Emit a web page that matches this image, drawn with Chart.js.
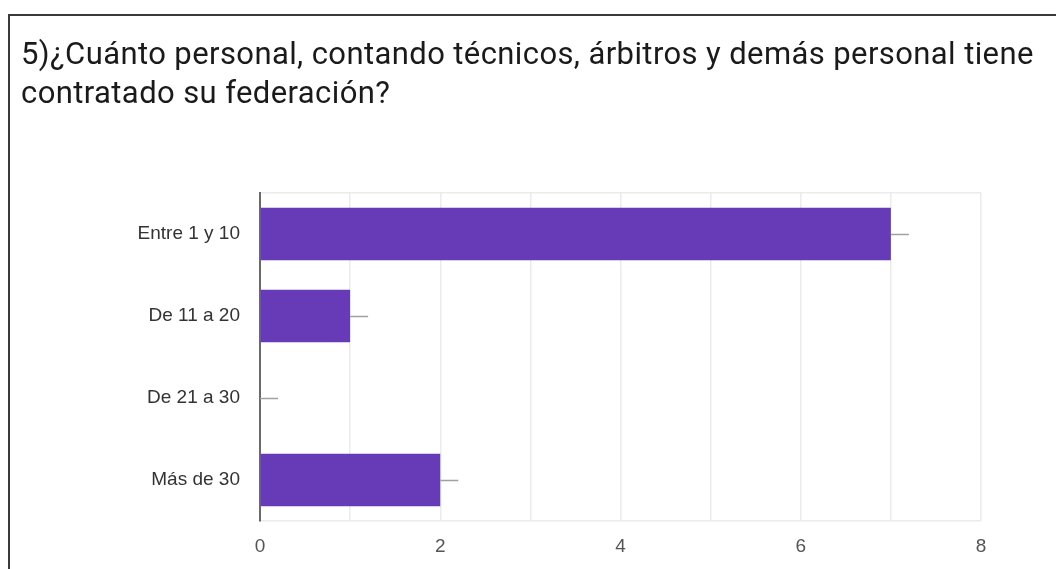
<!DOCTYPE html>
<html>
<head>
<meta charset="utf-8">
<script src="https://cdn.jsdelivr.net/npm/chart.js@4"></script>
<style>
  html, body { margin: 0; padding: 0; background: #fff; }
  #wrap { position: relative; width: 1056px; height: 569px; overflow: hidden; background: #fff; }
  #frame { position: absolute; left: 8px; top: 14px; width: 1100px; height: 600px;
           border-left: 2px solid #3a3a3a; border-top: 2px solid #3a3a3a; pointer-events: none; }
  #title { position: absolute; left: 21px; top: 34px; width: 1040px;
           font-family: Roboto, sans-serif; font-size: 31px; line-height: 39px;
           letter-spacing: 0.4px; color: #1a1a1a; white-space: nowrap; }
  canvas { position: absolute; left: 0; top: 0; }
</style>
</head>
<body>
<div id="wrap">
  <canvas id="c" width="1056" height="569"></canvas>
  <div id="title"></div>
  <div id="frame"></div>
</div>
<script>
const titleLines = ["5)¿Cuánto personal, contando técnicos, árbitros y demás personal tiene", "contratado su federación?"];
const categories = ["Entre 1 y 10", "De 11 a 20", "De 21 a 30", "Más de 30"];
const counts = [7, 1, 0, 2];
const xTickLabels = [0, 2, 4, 6, 8];

const titleEl = document.getElementById('title');
titleLines.forEach(line => {
  const d = document.createElement('div');
  d.textContent = line;
  titleEl.appendChild(d);
});

const stubPlugin = {
  id: 'stubs',
  afterDatasetsDraw(chart) {
    const ctx = chart.ctx;
    const meta = chart.getDatasetMeta(0);
    ctx.save();
    ctx.strokeStyle = '#a0a0a0';
    ctx.lineWidth = 1.5;
    meta.data.forEach(el => {
      ctx.beginPath();
      ctx.moveTo(el.x, Math.round(el.y) + 0.5);
      ctx.lineTo(el.x + 18, Math.round(el.y) + 0.5);
      ctx.stroke();
    });
    ctx.restore();
  }
};

new Chart(document.getElementById('c'), {
  type: 'bar',
  data: {
    labels: categories,
    datasets: [{
      data: counts,
      backgroundColor: '#673ab7',
      borderWidth: 0,
      categoryPercentage: 0.8,
      barPercentage: 0.8
    }]
  },
  plugins: [stubPlugin],
  options: {
    indexAxis: 'y',
    responsive: false,
    animation: false,
    layout: { padding: { left: 0, right: 75, top: 193, bottom: 0 } },
    plugins: {
      legend: { display: false },
      tooltip: { enabled: false },
      title: { display: false }
    },
    scales: {
      x: {
        min: 0,
        max: xTickLabels[xTickLabels.length - 1],
        ticks: {
          stepSize: 1,
          color: '#555',
          font: { family: 'Liberation Sans', size: 19 },
          padding: 14,
          maxRotation: 0,
          callback: (v) => xTickLabels.includes(v) ? String(v) : ''
        },
        grid: { color: '#ebebeb', lineWidth: 1.5, drawTicks: false },
        border: { color: '#ebebeb', width: 1.5 },
        afterFit(scale) { scale.height = 48; }
      },
      y: {
        ticks: {
          color: '#333',
          font: { family: 'Liberation Sans', size: 19 },
          padding: 20
        },
        grid: {
          drawTicks: false,
          lineWidth: 1.5,
          color: (ctx) => ctx.index === 0 ? '#ebebeb' : 'rgba(0,0,0,0)'
        },
        border: { color: '#6a6a6a', width: 2 },
        afterFit(scale) { scale.width = 260; }
      }
    }
  }
});
</script>
</body>
</html>
